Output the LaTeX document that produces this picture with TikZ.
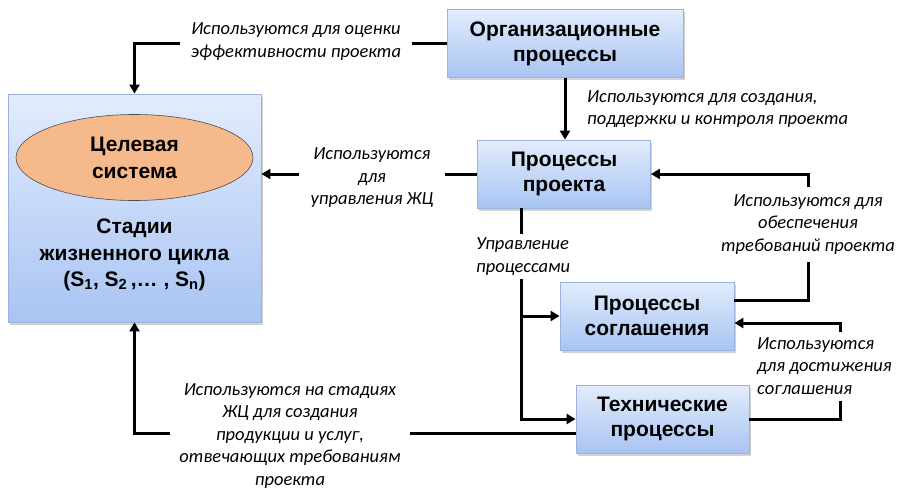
\documentclass[tikz,border=0pt]{standalone}
\usepackage{fontspec}
\setmainfont{Liberation Sans}
\newfontfamily\lblfont{Carlito}
\usetikzlibrary{shadows,arrows.meta,calc,shapes.geometric}
\definecolor{boxtop}{HTML}{E2ECFC}
\definecolor{boxbot}{HTML}{A9C4F3}
\definecolor{boxline}{HTML}{9AB2DC}
\definecolor{elfill}{HTML}{F5B98B}
\begin{document}
\begin{tikzpicture}[x=1pt,y=-1pt,
  procbox/.style={draw=boxline, line width=0.8pt, top color=boxtop, bottom color=boxbot,
    drop shadow={shadow xshift=1.5pt, shadow yshift=-2.5pt, fill=black!35, opacity=0.5},
    font=\bfseries\fontsize{21}{25}\selectfont, align=center, inner sep=0pt},
  lbl/.style={font=\lblfont\itshape\fontsize{18.5}{22.5}\selectfont, align=center, fill=white, inner sep=0pt},
  conn/.style={line width=3pt, line cap=butt},
  arr/.style={conn, -{Triangle[width=10pt,length=9pt]}}
]
\useasboundingbox (0,0) rectangle (922,498);
\fill[white] (0,0) rectangle (922,498);
% boxes
\node[procbox, minimum width=253pt, minimum height=228pt] (life) at (134.5,208) {};
\node[draw=black!70, line width=0.6pt, fill=elfill, ellipse, minimum width=237pt, minimum height=86pt,
  font=\bfseries\fontsize{21}{27}\selectfont, align=center, inner sep=0pt] (ell) at (134.5,157.5) {Целевая\\система};
\node[font=\bfseries\fontsize{21}{26.5}\selectfont, align=center] (stages) at (134.5,255)
  {Стадии\\жизненного цикла\\(S\textsubscript{1}, S\textsubscript{2}\,,\ldots\ , S\textsubscript{n})};
\node[procbox, minimum width=236pt, minimum height=68pt] (org) at (565,43.5) {Организационные\\процессы};
\node[procbox, minimum width=173pt, minimum height=68pt] (proj) at (564,174) {Процессы\\проекта};
\node[procbox, minimum width=174pt, minimum height=68pt] (agr) at (647,316) {Процессы\\соглашения};
\node[procbox, minimum width=173pt, minimum height=68pt] (tech) at (662.5,419) {Технические\\процессы};
% coordinates
\coordinate (r1) at (808,174);
\coordinate (r2) at (840,323);
\coordinate (d1) at ([xshift=-43pt]proj.south);
\coordinate (j1) at (d1 |- agr.west);
% connectors
\draw[arr] (org.west) -| (life.north);
\draw[arr] (org.south) -- (org.south |- proj.north);
\draw[arr] (proj.west) -- (proj.west -| life.east);
\draw[arr] ([yshift=16pt]agr.east) -| (r1) -- (proj.east);
\draw[arr] (tech.east) -| (r2) -- ([yshift=-7pt]agr.east);
\draw[arr] (d1) |- (tech.west);
\draw[arr] (j1) -- (agr.west);
\draw[arr] ([yshift=-14pt]tech.west) -| (life.south);
% labels
\node[lbl, inner xsep=11pt] (l1) at (296,41.5) {Используются для оценки\\эффективности проекта};
\node[lbl, align=left, anchor=west] (l2) at (587,109) {Используются для создания,\\поддержки и контроля проекта};
\node[lbl, inner xsep=12pt] (l3) at (372,178) {Используются\\для\\управления ЖЦ};
\node[lbl, inner ysep=8pt] (l4) at (808,224.5) {Используются для\\обеспечения\\требований проекта};
\node[lbl, align=left, anchor=west, inner ysep=6pt] (l5) at (757,366) {Используются\\для достижения\\соглашения};
\node[lbl, align=left, anchor=west, inner ysep=4pt] (l6) at (476,256.5) {Управление\\процессами};
\node[lbl, inner xsep=9pt] (l7) at (290,436) {Используются на стадиях\\ЖЦ для создания\\продукции и услуг,\\отвечающих требованиям\\проекта};
\end{tikzpicture}
\end{document}
